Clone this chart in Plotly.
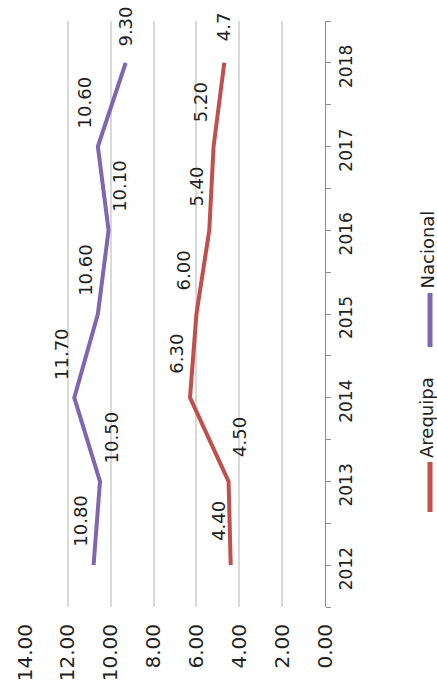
import plotly.graph_objects as go

years = [2012, 2013, 2014, 2015, 2016, 2017, 2018]
year_labels = ["2012", "2013", "2014", "2015", "2016", "2017", "2018"]
arequipa = [4.40, 4.50, 6.30, 6.00, 5.40, 5.20, 4.7]
nacional = [10.80, 10.50, 11.70, 10.60, 10.10, 10.60, 9.30]
arequipa_text = ["4.40", "4.50", "6.30", "6.00", "5.40", "5.20", "4.7"]
nacional_text = ["10.80", "10.50", "11.70", "10.60", "10.10", "10.60", "9.30"]
value_ticks = [0, 2, 4, 6, 8, 10, 12, 14]
value_tick_labels = ["0.00", "2.00", "4.00", "6.00", "8.00", "10.00", "12.00", "14.00"]
series_names = ["Arequipa", "Nacional"]

# style
FONT = "DejaVu Sans"
TXT = "#222222"
COL_AQP = "#C0504D"
COL_NAC = "#8066B0"
arequipa_side = ["L", "R", "L", "L", "L", "L", "T"]
nacional_side = ["L", "R", "L", "L", "R", "L", "T"]
SHIFTS = {"L": (-13, 44), "R": (11, 44), "T": (0, 36)}

fig = go.Figure()
fig.add_trace(go.Scatter(x=arequipa, y=years, mode="lines", name=series_names[0],
                         line=dict(color=COL_AQP, width=4), showlegend=False))
fig.add_trace(go.Scatter(x=nacional, y=years, mode="lines", name=series_names[1],
                         line=dict(color=COL_NAC, width=4), showlegend=False))

annotations = []
for vals, texts, sides in [(arequipa, arequipa_text, arequipa_side),
                           (nacional, nacional_text, nacional_side)]:
    for v, yr, t, s in zip(vals, years, texts, sides):
        xs, ys = SHIFTS[s]
        annotations.append(dict(x=v, y=yr, xref="x", yref="y", text=t, showarrow=False,
                                textangle=-90, xshift=xs, yshift=ys,
                                font=dict(family=FONT, size=18, color=TXT)))

# custom rotated legend
L, R, T, B = 25, 112, 21, 73
W, H = 437, 680
pw, ph = W - L - R, H - T - B
def px_x(p):
    return (p - L) / pw
def px_y(p):
    return (H - B - p) / ph

legend_items = [(series_names[0], COL_AQP, 462, 512), (series_names[1], COL_NAC, 293, 347)]
shapes = []
for name, col, y_top, y_bot in legend_items:
    shapes.append(dict(type="line", xref="paper", yref="paper",
                       x0=px_x(430), x1=px_x(430), y0=px_y(y_bot), y1=px_y(y_top),
                       line=dict(color=col, width=5)))
    annotations.append(dict(x=px_x(426.5), y=px_y(y_top - 2), xref="paper", yref="paper",
                            text=name, showarrow=False, textangle=-90,
                            xanchor="center", yanchor="bottom",
                            font=dict(family=FONT, size=18, color=TXT)))

fig.update_layout(
    width=W, height=H,
    margin=dict(l=L, r=R, t=T, b=B, autoexpand=False),
    paper_bgcolor="white", plot_bgcolor="white",
    font=dict(family=FONT, size=18, color=TXT),
    showlegend=False,
    annotations=annotations,
    shapes=shapes,
    xaxis=dict(range=[14, 0], tickvals=value_ticks, ticktext=value_tick_labels,
               tickangle=-90, showgrid=True, gridcolor="#D9D9D9", gridwidth=1.5,
               zeroline=False, showline=False, ticks="", ticklabelstandoff=12,
               automargin=False,
               tickfont=dict(family=FONT, size=20, color=TXT)),
    yaxis=dict(range=[2011.5, 2018.5], side="right", tickvals=years, ticktext=year_labels,
               tickangle=-90, showgrid=False, zeroline=False,
               showline=True, linecolor="#8C8C8C", linewidth=1.2,
               ticks="outside", ticklen=5, tickcolor="#8C8C8C",
               ticklabelstandoff=0, ticklabelshift=6, automargin=False,
               minor=dict(tickvals=[y + 0.5 for y in [2011] + years], ticks="outside",
                          ticklen=5, tickcolor="#8C8C8C"),
               tickfont=dict(family=FONT, size=17, color=TXT)),
)

fig.write_html("out.html", config={"displayModeBar": False},
               post_script="document.body.style.margin='0';")
